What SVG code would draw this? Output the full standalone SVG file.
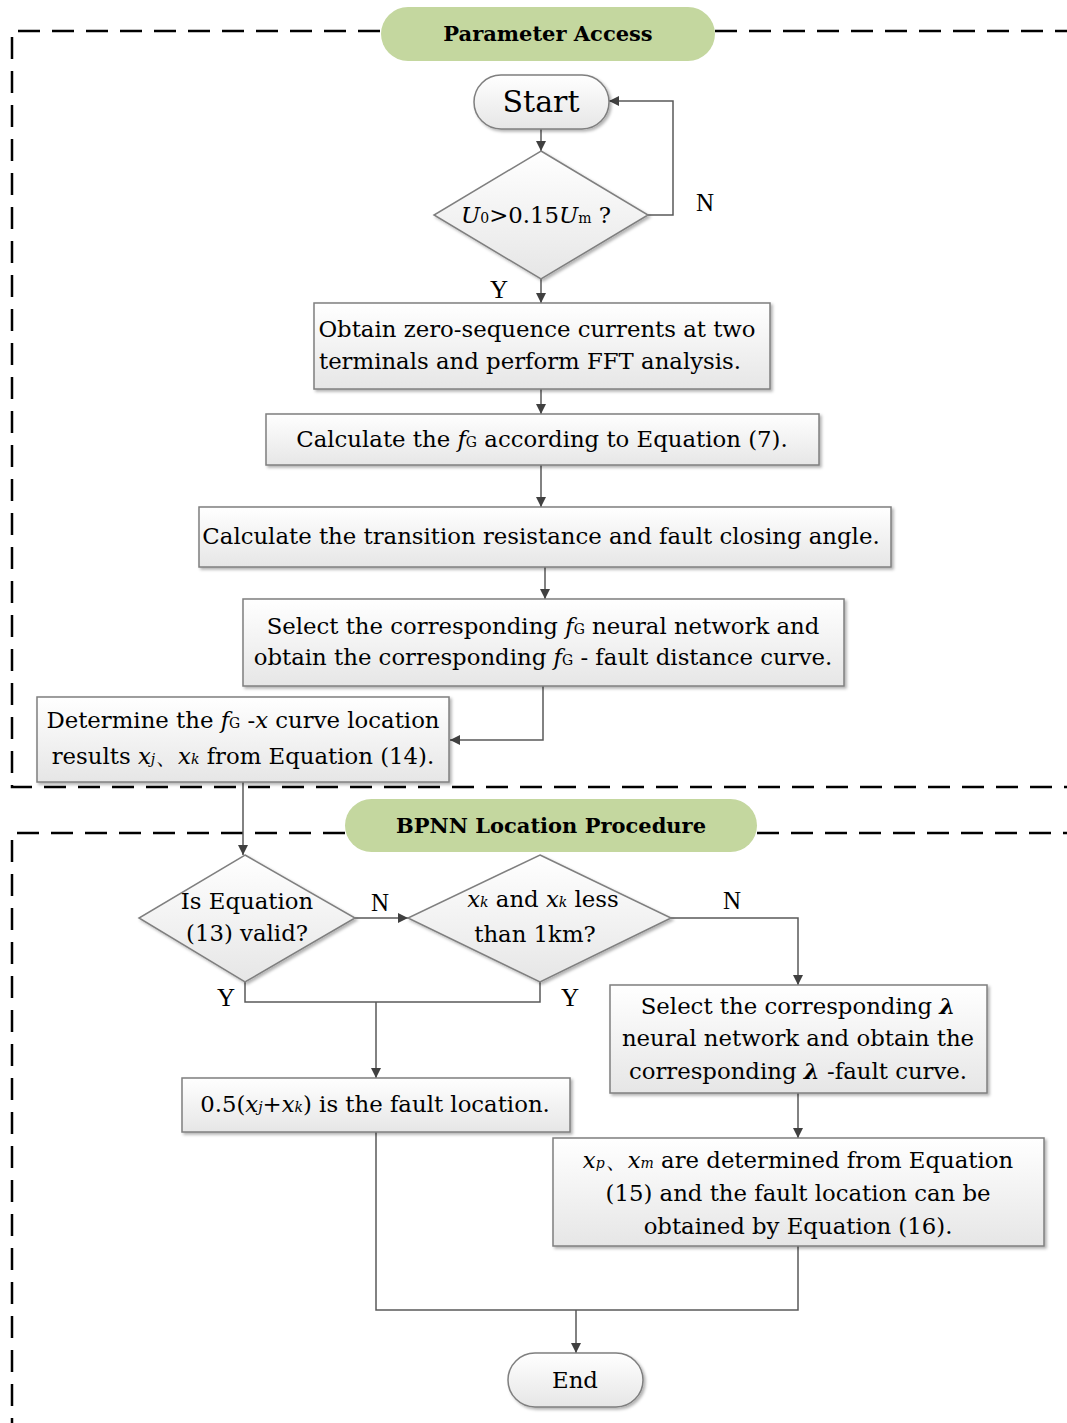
<svg xmlns="http://www.w3.org/2000/svg" width="1067" height="1423" viewBox="0 0 1067 1423">
<style>
.t{font-family:"DejaVu Serif","Liberation Serif",serif;font-size:22.8px;fill:#000;text-anchor:middle}
.l{font-family:"Liberation Serif","DejaVu Serif",serif;font-size:25px;fill:#000;text-anchor:middle}
.h{font-family:"DejaVu Serif","Liberation Serif",serif;font-size:21px;font-weight:bold;fill:#000;text-anchor:middle}
.i{font-style:italic}
.s{font-size:14px}
.box{fill:url(#g);stroke:#7f7f7f;stroke-width:1.5;filter:url(#sh)}
.pill{fill:#c4d79f}
.dash{fill:none;stroke:#000;stroke-width:2.5;stroke-dasharray:22 12}
.c{fill:none;stroke:#595959;stroke-width:1.5}
</style>
<defs>
<linearGradient id="g" x1="0" y1="0" x2="0" y2="1"><stop offset="0" stop-color="#ffffff"/><stop offset="1" stop-color="#e6e6e6"/></linearGradient>
<filter id="sh" x="-5%" y="-5%" width="110%" height="120%"><feDropShadow dx="2" dy="2" stdDeviation="1.5" flood-color="#000" flood-opacity="0.3"/></filter>
<marker id="a" viewBox="0 0 10 10" refX="10" refY="5" markerWidth="10" markerHeight="10" markerUnits="userSpaceOnUse" orient="auto"><path d="M0,0 L10,5 L0,10 z" fill="#404040"/></marker>
</defs>
<g id="regions">
<path class="dash" d="M380,31 H12 V787 H1067 M715,31 H1067"/>
<path class="dash" d="M345,833 H12 V1423 M757,833 H1067"/>
</g>
<g id="hdr1"><rect class="pill" x="381" y="7" width="334" height="54" rx="27"/><text class="h" x="548" y="41">Parameter Access</text></g>
<g id="hdr2"><rect class="pill" x="345" y="799" width="412" height="53" rx="26.5"/><text class="h" x="551" y="833">BPNN Location Procedure</text></g>
<g id="connectors">
<path class="c" d="M541,129 V151" marker-end="url(#a)"/>
<path class="c" d="M648,215 H673 V101 H609" marker-end="url(#a)"/>
<path class="c" d="M541,279 V303" marker-end="url(#a)"/>
<path class="c" d="M541,389 V414" marker-end="url(#a)"/>
<path class="c" d="M541,465 V507" marker-end="url(#a)"/>
<path class="c" d="M545,567 V599" marker-end="url(#a)"/>
<path class="c" d="M543,686 V740 H450" marker-end="url(#a)"/>
<path class="c" d="M243,782 V855" marker-end="url(#a)"/>
<path class="c" d="M355,918 H408" marker-end="url(#a)"/>
<path class="c" d="M671,918 H798 V985" marker-end="url(#a)"/>
<path class="c" d="M245,982 V1002 H540 V982"/>
<path class="c" d="M376,1002 V1078" marker-end="url(#a)"/>
<path class="c" d="M798,1093 V1138" marker-end="url(#a)"/>
<path class="c" d="M376,1132 V1310 H798 V1246"/>
<path class="c" d="M576,1310 V1353" marker-end="url(#a)"/>
<text class="l" x="705" y="211">N</text>
<text class="l" x="499" y="298">Y</text>
<text class="l" x="380" y="911">N</text>
<text class="l" x="732" y="909">N</text>
<text class="l" x="226" y="1006">Y</text>
<text class="l" x="570" y="1006">Y</text>
</g>
<g id="start"><rect class="box" x="474" y="75" width="135" height="54" rx="27"/><text class="t" x="541" y="112" style="font-size:30px">Start</text></g>
<g id="d1"><polygon class="box" points="541,151 648,215 541,279 434,215"/><text class="t" x="536" y="223"><tspan class="i">U</tspan><tspan class="s">0</tspan>&gt;0.15<tspan class="i">U</tspan><tspan class="s">m</tspan> ?</text></g>
<g id="b1"><rect class="box" x="314" y="303" width="456" height="86"/><text class="t" x="537" y="337">Obtain zero-sequence currents at two</text><text class="t" x="530" y="369">terminals and perform FFT analysis.</text></g>
<g id="b2"><rect class="box" x="266" y="414" width="553" height="51"/><text class="t" x="542" y="447">Calculate the <tspan class="i">f</tspan><tspan class="s">G</tspan> according to Equation (7).</text></g>
<g id="b3"><rect class="box" x="199" y="507" width="692" height="60"/><text class="t" x="541" y="544">Calculate the transition resistance and fault closing angle.</text></g>
<g id="b4"><rect class="box" x="243" y="599" width="601" height="87"/><text class="t" x="543" y="634">Select the corresponding <tspan class="i">f</tspan><tspan class="s">G</tspan> neural network and</text><text class="t" x="543" y="665">obtain the corresponding <tspan class="i">f</tspan><tspan class="s">G</tspan> - fault distance curve.</text></g>
<g id="b5"><rect class="box" x="37" y="697" width="412" height="85"/><text class="t" x="243" y="728">Determine the <tspan class="i">f</tspan><tspan class="s">G</tspan> -<tspan class="i">x</tspan> curve location</text><text class="t" x="243" y="764">results <tspan class="i">x</tspan><tspan class="s i">j</tspan>、<tspan class="i">x</tspan><tspan class="s i">k</tspan> from Equation (14).</text></g>
<g id="d2"><polygon class="box" points="245,855 355,918 245,982 139,918"/><text class="t" x="247" y="909">Is Equation</text><text class="t" x="247" y="941">(13) valid?</text></g>
<g id="d3"><polygon class="box" points="540,855 671,918 540,982 408,918"/><text class="t" x="543" y="907"><tspan class="i">x</tspan><tspan class="s i">k</tspan> and <tspan class="i">x</tspan><tspan class="s i">k</tspan> less</text><text class="t" x="535" y="942">than 1km?</text></g>
<g id="b6"><rect class="box" x="182" y="1078" width="388" height="54"/><text class="t" x="375" y="1112">0.5(<tspan class="i">x</tspan><tspan class="s i">j</tspan>+<tspan class="i">x</tspan><tspan class="s i">k</tspan>) is the fault location.</text></g>
<g id="b7"><rect class="box" x="610" y="985" width="377" height="108"/><text class="t" x="798" y="1014">Select the corresponding <tspan class="i" font-weight="bold">λ</tspan></text><text class="t" x="798" y="1046">neural network and obtain the</text><text class="t" x="798" y="1079">corresponding <tspan class="i" font-weight="bold">λ</tspan> -fault curve.</text></g>
<g id="b8"><rect class="box" x="553" y="1138" width="491" height="108"/><text class="t" x="798" y="1168"><tspan class="i">x</tspan><tspan class="s i">p</tspan>、<tspan class="i">x</tspan><tspan class="s i">m</tspan> are determined from Equation</text><text class="t" x="798" y="1201">(15) and the fault location can be</text><text class="t" x="798" y="1234">obtained by Equation (16).</text></g>
<g id="end"><rect class="box" x="508" y="1353" width="135" height="54" rx="27"/><text class="t" x="575" y="1388">End</text></g>
</svg>
